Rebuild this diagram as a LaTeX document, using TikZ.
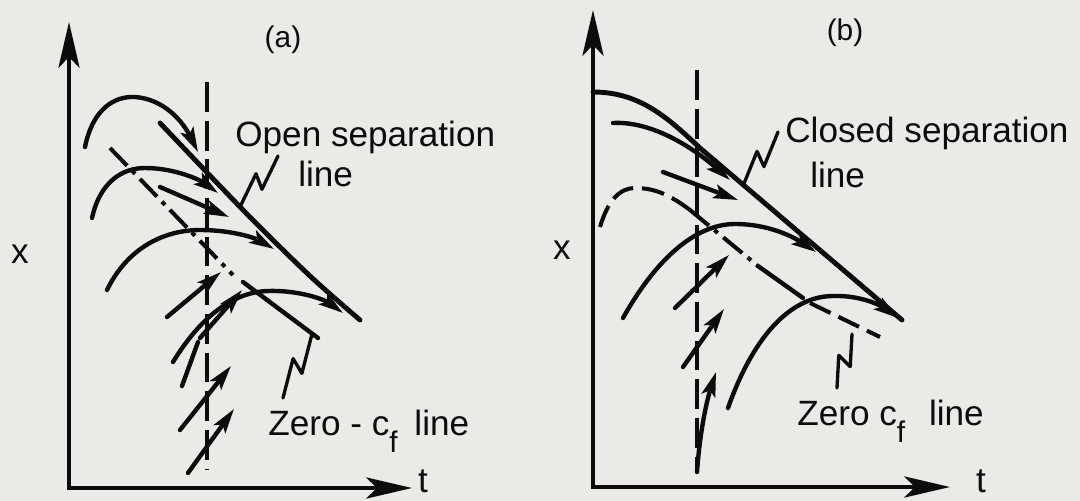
\documentclass[tikz,border=0pt]{standalone}
\usepackage{fontspec}
\setmainfont{Liberation Sans}
\usetikzlibrary{arrows.meta, calc}
\definecolor{paper}{RGB}{234,234,231}
\definecolor{ink}{RGB}{12,12,12}

\begin{document}
\begin{tikzpicture}[
			x=0.02cm, y=-0.02cm,
			line cap=round, line join=round, draw=ink,
			axis/.style={line width=2.3pt, line join=miter, {Stealth[length=26pt, width=12pt, inset=6pt]}-{Stealth[length=26pt, width=12pt, inset=6pt]}},
			flow/.style={line width=2.5pt, -{Stealth[length=14pt, width=8pt, inset=3pt]}},
			streak/.style={line width=2.5pt},
			sepline/.style={line width=2.8pt},
			guide/.style={line width=2pt, line cap=butt, dash pattern=on 17pt off 5pt},
			dashdot/.style={line width=2.3pt, line cap=butt, dash pattern=on 14pt off 4pt on 2.5pt off 4pt},
			dashline/.style={line width=2.3pt, line cap=butt, dash pattern=on 13pt off 5pt},
			leader/.style={line width=1.9pt, to path={-- ($(\tikztostart)!.57!(\tikztotarget)!4pt!90:(\tikztotarget)$) -- ($(\tikztostart)!.43!(\tikztotarget)!4pt!270:(\tikztotarget)$) -- (\tikztotarget)}},
			lbl/.style={anchor=base west, inner sep=0pt, text=ink, font=\fontsize{20}{24}\selectfont},
			axlbl/.style={inner sep=0pt, text=ink, font=\fontsize{20}{24}\selectfont},
			tag/.style={inner sep=0pt, text=ink, font=\fontsize{17}{20}\selectfont}
			]
			\fill [paper] (0,0) rectangle (1080,501);
			\useasboundingbox (0,0) rectangle (1080,501);

			% ---- (a) open separation ----
			\coordinate (oa) at (69,488);
			\coordinate (xa) at (69,22);
			\coordinate (ta) at (412,488);
			\draw [axis] (xa) -- (oa) -- (ta);
			\node (xlbla) [axlbl] at (20,254) {x};
			\node (tlbla) [axlbl] at (423,481) {t};
			\node (taga) [tag] at (283,40) {(a)};

			\draw [guide] (207,82) -- (207,470);

			% separation line and zero-cf line
			\draw [sepline] plot [smooth] coordinates {(160,123) (245,212) (310,276) (360,320)};
			\draw [dashdot] (110,148) -- (233,275);
			\draw [streak] (243,282) -- (318,338);

			% limiting streamlines
			\draw [flow] (85,147) .. controls (93,108) and (115,96) .. (135,97) .. controls (163,99) and (182,120) .. (198,152);
			\draw [flow] (92,218) .. controls (100,182) and (122,168) .. (145,168) .. controls (175,168) and (200,180) .. (218,193);
			\draw [flow] (160,187) -- (229,217);
			\draw [flow] (107,290) .. controls (128,247) and (165,230) .. (200,230) .. controls (232,230) and (255,238) .. (274,249);
			\draw [flow] (173,362) .. controls (200,318) and (232,292) .. (268,291) .. controls (300,290) and (325,300) .. (343,313);
			\draw [flow] (200,338) -- (242,290);
			\draw [streak] (182,386) -- (198,342);
			\draw [flow] (167,317) -- (221,272);
			\draw [flow] (180,430) -- (231,366);
			\draw [flow] (188,473) -- (234,409);

			% labels
			\node (opena) [lbl] at (235,146) {Open separation};
			\node (linea) [lbl] at (298,186) {line};
			\node (zeroa) [lbl] at (268,435) {Zero - c\raisebox{-10pt}{\fontsize{17}{17}\selectfont f}\hspace{4pt} line};
			\coordinate (sa) at (240,207);
			\coordinate (sa2) at (278,156);
			\coordinate (za) at (312,334);
			\coordinate (za2) at (283,398);
			\draw [leader] (sa) to (sa2);
			\draw [leader] (za) to (za2);

			% ---- (b) closed separation ----
			\coordinate (ob) at (593,487);
			\coordinate (xb) at (593,10);
			\coordinate (tb) at (950,487);
			\draw [axis] (xb) -- (ob) -- (tb);
			\node (xlblb) [axlbl] at (562,250) {x};
			\node (tlblb) [axlbl] at (981,481) {t};
			\node (tagb) [tag] at (845,33) {(b)};

			\draw [guide] (697,70) -- (697,472);

			% separation line and zero-cf line
			\draw [sepline] (593,92) .. controls (640,92) and (668,118) .. (700,148) -- (902,320);
			\draw [dashline] (600,227) .. controls (608,200) and (620,188) .. (635,188) .. controls (655,188) and (670,195) .. (690,210);
			\draw [dashdot] (690,210) -- (758,266);
			\draw [streak] (758,266) -- (803,298);
			\draw [dashline] (810,303) -- (880,337);

			% limiting streamlines
			\draw [flow] (613,123) .. controls (650,121) and (690,145) .. (730,180);
			\draw [flow] (663,172) -- (738,200);
			\draw [flow] (623,318) .. controls (660,252) and (700,224) .. (735,224) .. controls (770,224) and (795,238) .. (816,252);
			\draw [flow] (728,408) .. controls (752,340) and (788,297) .. (832,296) .. controls (860,295) and (880,305) .. (898,318);
			\draw [flow] (675,308) -- (729,255);
			\draw [flow] (683,367) -- (724,309);
			\draw [flow] (697,472) .. controls (700,430) and (707,400) .. (716,372);

			% labels
			\node (closedb) [lbl] at (785,142) {Closed separation};
			\node (lineb) [lbl] at (810,187) {line};
			\node (zerob) [lbl] at (797,425) {Zero c\raisebox{-10pt}{\fontsize{17}{17}\selectfont f}\hspace{8pt} line};
			\coordinate (sb) at (743,186);
			\coordinate (sb2) at (778,132);
			\coordinate (zb) at (852,334);
			\coordinate (zb2) at (837,388);
			\draw [leader] (sb) to (sb2);
			\draw [leader] (zb) to (zb2);
		\end{tikzpicture}
\end{document}
